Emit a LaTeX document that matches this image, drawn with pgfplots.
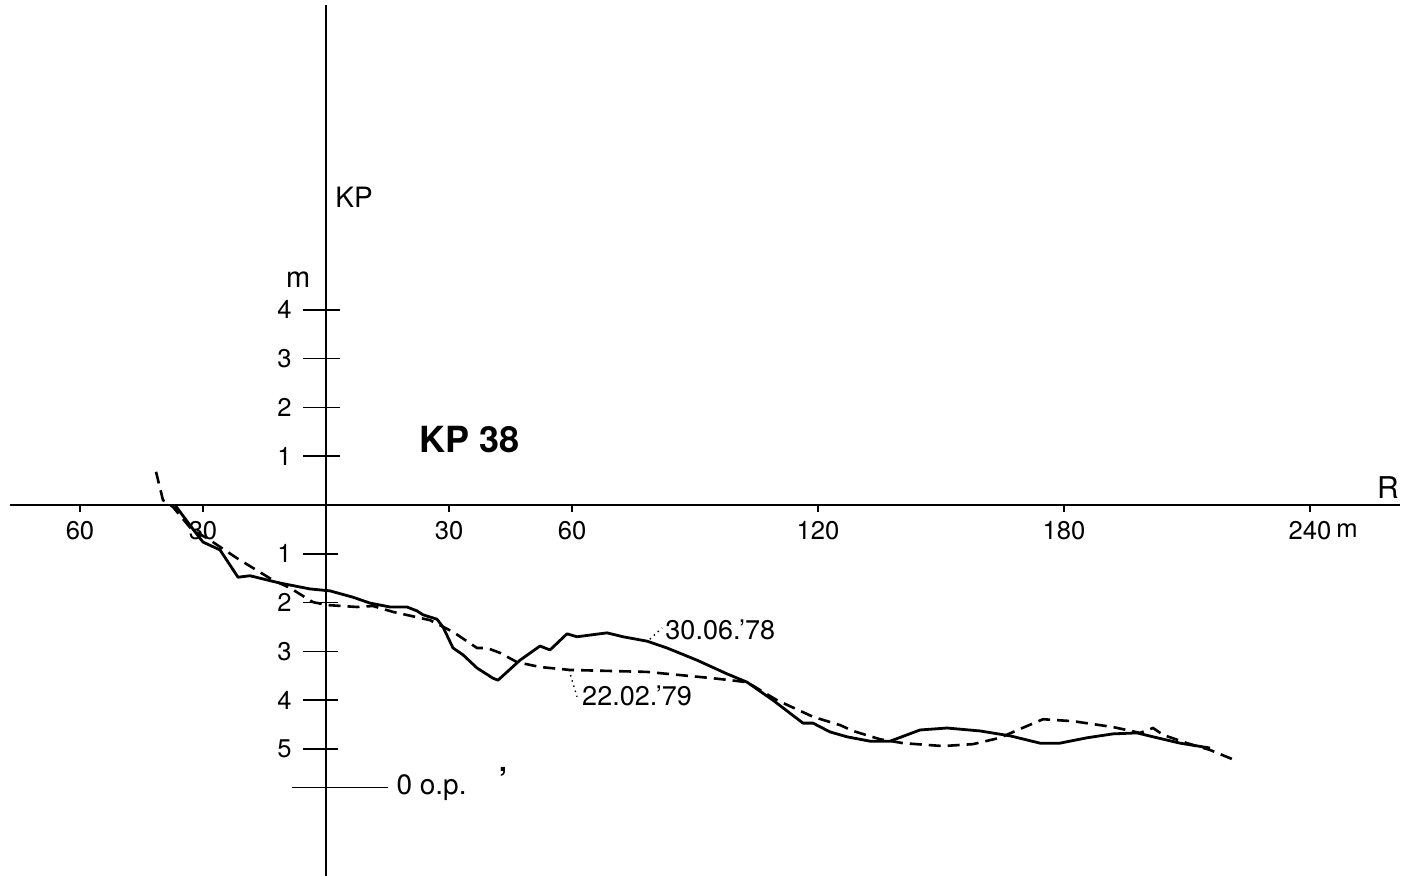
\documentclass[border=0pt]{standalone}
\usepackage{fontspec}
\setmainfont{TeX Gyre Heros}
\usepackage{pgfplots}
\pgfplotsset{compat=1.18}
\begin{document}
\begin{tikzpicture}
\begin{axis}[
  width=701.5pt, height=438pt, scale only axis,
  xmin=-79.51, xmax=262.68, ymin=-7.602, ymax=10.348,
  hide axis, clip=false,
]
% axes
\draw[line width=1.1pt] (axis cs:-77.07,0) -- (axis cs:261.95,0);
\draw[line width=0.9pt] (axis cs:0,10.25) -- (axis cs:0,-7.602);
% x ticks and labels
\pgfplotsinvokeforeach{-60,-30,30,60,120,180,240}{
  \draw[line width=0.8pt] (axis cs:#1,0) -- (axis cs:#1,-0.15);
}
\pgfplotsinvokeforeach{60,30}{
  \node[inner sep=0pt, font=\fontsize{12.8}{15}\selectfont] at (axis cs:-#1,-0.52) {#1};
}
\pgfplotsinvokeforeach{30,60,120,180,240}{
  \node[inner sep=0pt, font=\fontsize{12.8}{15}\selectfont] at (axis cs:#1,-0.52) {#1};
}
\node[inner sep=0pt, font=\fontsize{12.8}{15}\selectfont] at (axis cs:249,-0.52) {m};
% y ticks
\pgfplotsinvokeforeach{1,2,3,4}{
  \draw[line width=0.8pt] (axis cs:-5.6,#1) -- (axis cs:3.4,#1);
  \node[anchor=east, inner sep=0pt, font=\fontsize{12.8}{15}\selectfont] at (axis cs:-8.3,#1) {#1};
}
\pgfplotsinvokeforeach{1,2,3,4,5}{
  \draw[line width=0.8pt] (axis cs:-5.6,-#1) -- (axis cs:3.0,-#1);
  \node[anchor=east, inner sep=0pt, font=\fontsize{12.8}{15}\selectfont] at (axis cs:-8.3,-#1) {#1};
}
% 0 o.p.
\draw[line width=0.8pt] (axis cs:-8.3,-5.785) -- (axis cs:15.1,-5.785);
\node[anchor=west, inner sep=0pt, font=\fontsize{14}{16}\selectfont] at (axis cs:17.1,-5.80) {0 o.p.};
\node[inner sep=0pt, font=\fontsize{14}{16}\selectfont\bfseries] at (axis cs:43.2,-5.46) {,};
% axis labels
\node[anchor=west, inner sep=0pt, font=\fontsize{14}{16}\selectfont] at (axis cs:2.2,6.31) {KP};
\node[inner sep=0pt, font=\fontsize{14.5}{16}\selectfont] at (axis cs:-6.8,4.62) {m};
\node[inner sep=0pt, font=\fontsize{15}{17}\selectfont] at (axis cs:259,0.35) {R};
\node[inner sep=0pt, font=\fontsize{18}{20}\selectfont\bfseries] at (axis cs:35.1,1.35) {KP 38};
% leaders and date labels
\draw[dotted, line width=0.7pt] (axis cs:79.0,-2.75) -- (axis cs:81.95,-2.52);
\node[anchor=west, inner sep=0pt, font=\fontsize{13.5}{15}\selectfont] at (axis cs:82.7,-2.56) {30.06.'78};
\draw[dotted, line width=0.7pt] (axis cs:59.27,-3.38) -- (axis cs:61.22,-3.93);
\node[anchor=west, inner sep=0pt, font=\fontsize{13.5}{15}\selectfont] at (axis cs:62.4,-3.91) {22.02.'79};
% 30.06.78 (solid)
\addplot[black, line width=1.4pt, line join=round] coordinates {
(-36.83,0.00) (-32.68,-0.47) (-30.00,-0.76) (-25.85,-0.92) (-21.46,-1.48)
(-18.54,-1.45) (-11.22,-1.60) (-3.90,-1.72) (0.98,-1.76) (6.59,-1.89)
(10.73,-2.01) (15.61,-2.09) (19.76,-2.09) (22.20,-2.17) (23.66,-2.25)
(27.07,-2.34) (28.54,-2.50) (30.98,-2.93) (33.41,-3.07) (36.83,-3.34)
(40.73,-3.55) (41.95,-3.59) (47.32,-3.18) (52.20,-2.89) (54.63,-2.97)
(58.78,-2.64) (61.22,-2.70) (68.54,-2.62) (72.44,-2.70) (78.29,-2.79)
(83.17,-2.93) (90.49,-3.18) (97.80,-3.46) (102.68,-3.63) (109.02,-4.00)
(116.34,-4.47) (118.78,-4.47) (122.93,-4.65) (127.07,-4.75) (132.68,-4.84)
(137.56,-4.84) (141.71,-4.71) (144.88,-4.61) (151.46,-4.57) (159.51,-4.63)
(166.83,-4.73) (174.15,-4.88) (179.02,-4.88) (185.61,-4.77) (191.95,-4.69)
(197.80,-4.67) (201.71,-4.75) (208.29,-4.88) (215.61,-4.98)
};
% 22.02.79 (dashed)
\addplot[black, line width=1.3pt, dash pattern=on 6pt off 3.5pt] coordinates {
(-41.46,0.68) (-39.76,0.10) (-37.32,-0.04) (-32.68,-0.51) (-29.02,-0.68)
(-21.71,-1.09) (-12.93,-1.54) (-8.78,-1.70) (-3.17,-1.99) (0.24,-2.05)
(7.56,-2.09) (11.46,-2.07) (16.34,-2.19) (25.37,-2.36) (30.98,-2.60)
(36.83,-2.93) (39.27,-2.93) (42.44,-3.03) (46.59,-3.22) (52.20,-3.32)
(59.51,-3.38) (78.29,-3.42) (94.39,-3.55) (102.68,-3.63) (110.00,-4.00)
(118.78,-4.34) (125.37,-4.51) (128.54,-4.63) (135.12,-4.80) (140.73,-4.88)
(150.49,-4.94) (157.80,-4.90) (164.39,-4.77) (169.27,-4.59) (174.88,-4.39)
(182.20,-4.43) (191.95,-4.55) (198.54,-4.67) (201.71,-4.57) (204.15,-4.71)
(210.00,-4.88) (215.61,-5.02) (221.71,-5.23)
};
\end{axis}
\pgfresetboundingbox
\useasboundingbox (current axis.south west) rectangle (current axis.north east);
\end{tikzpicture}
\end{document}
